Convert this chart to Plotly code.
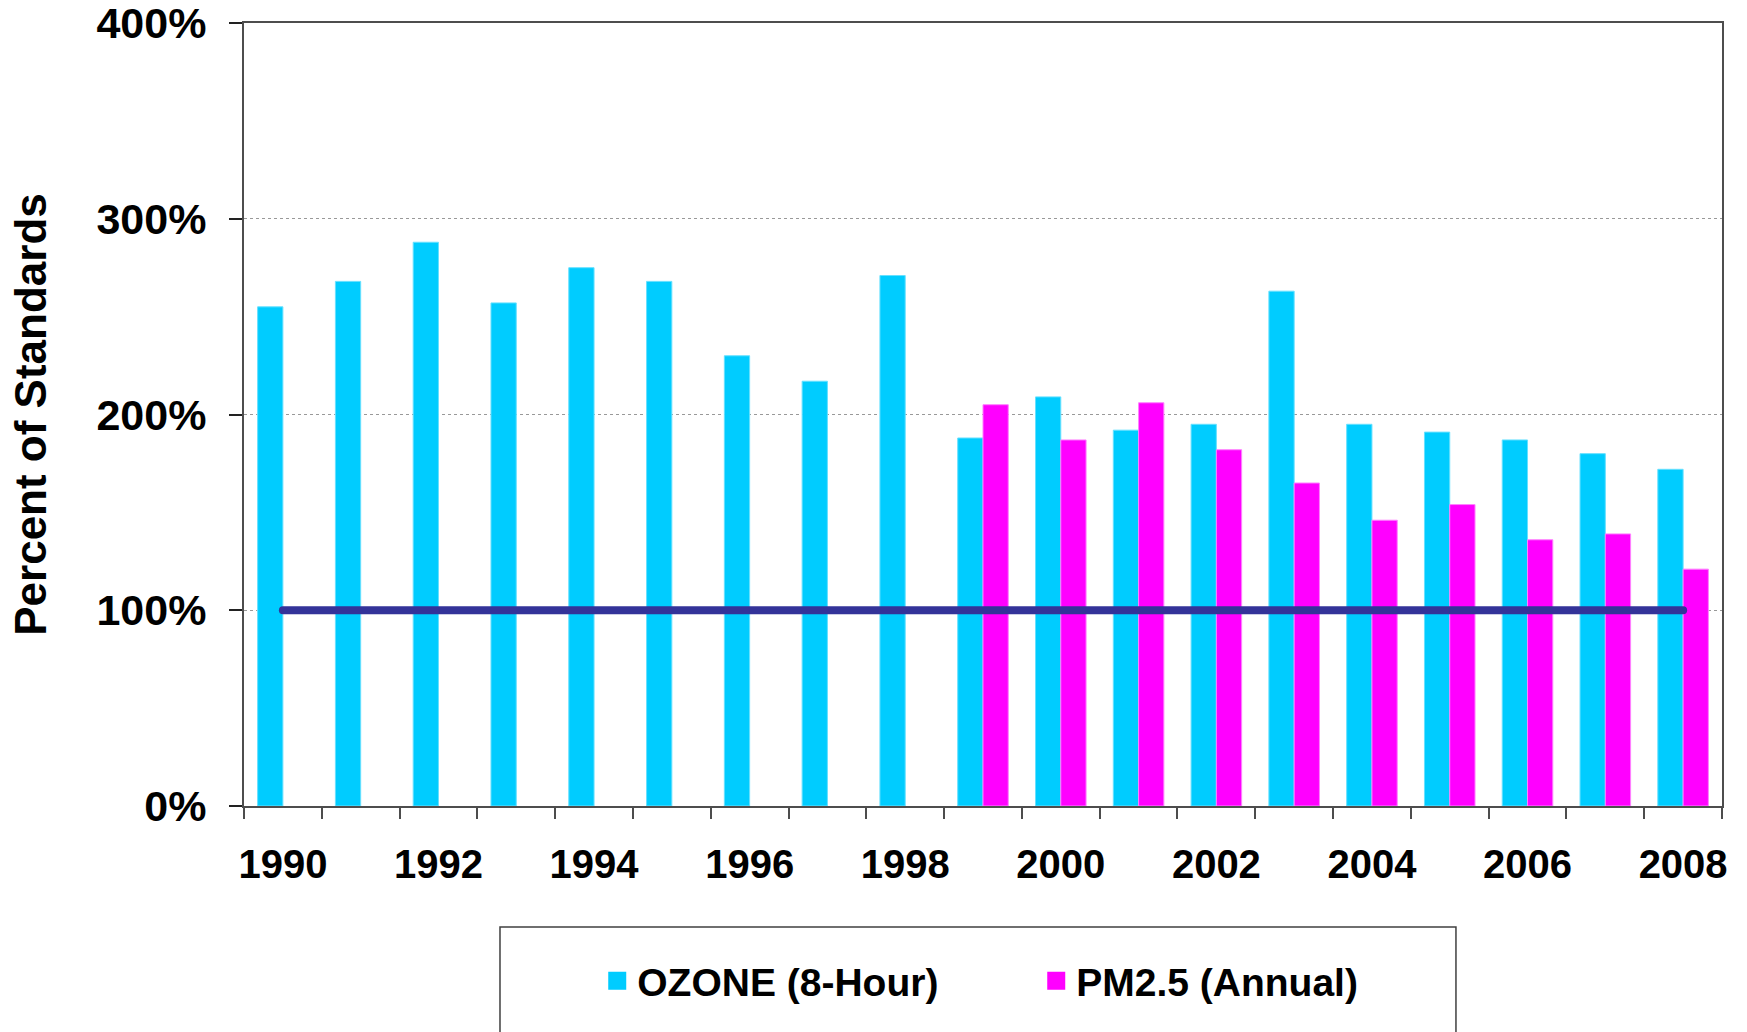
import plotly.graph_objects as go

years = list(range(1990, 2009))
ozone = [255, 268, 288, 257, 275, 268, 230, 217, 271, 188, 209, 192, 195, 263, 195, 191, 187, 180, 172]
pm_years = list(range(1999, 2009))
pm25 = [205, 187, 206, 182, 165, 146, 154, 136, 139, 121]
standard_years = [1990, 2008]
standard_level = [100, 100]
y_ticks = [0, 100, 200, 300, 400]
y_ticktext = ["0%", "100%", "200%", "300%", "400%"]
x_ticks = list(range(1990, 2009, 2))

FONT = "Liberation Sans, Arial, sans-serif"
CYAN = "#00CCFF"
MAGENTA = "#FF00FF"
NAVY = "#333399"
AXIS = "#4d4d4d"

fig = go.Figure()
fig.add_trace(go.Bar(x=years, y=ozone, name="OZONE (8-Hour)", legendgroup="oz",
                     showlegend=False,
                     marker=dict(color=CYAN, line=dict(color="#66e0ff", width=1))))
fig.add_trace(go.Bar(x=pm_years, y=pm25, name="PM2.5 (Annual)", legendgroup="pm",
                     showlegend=False,
                     marker=dict(color=MAGENTA, line=dict(color="#ff80ff", width=1))))
fig.add_trace(go.Scatter(x=standard_years, y=standard_level, mode="lines",
                         line=dict(color=NAVY, width=8), showlegend=False,
                         hoverinfo="skip"))
# legend entries (square swatches) for the two bar series
fig.add_trace(go.Scatter(x=[None], y=[None], mode="markers", name="OZONE (8-Hour)",
                         legendgroup="oz",
                         marker=dict(symbol="square", size=16, color=CYAN,
                                     line=dict(color=CYAN, width=2))))
fig.add_trace(go.Scatter(x=[None], y=[None], mode="markers", name="PM2.5 (Annual)",
                         legendgroup="pm",
                         marker=dict(symbol="square", size=16, color=MAGENTA,
                                     line=dict(color=MAGENTA, width=2))))

fig.update_layout(
    width=1747, height=1032,
    margin=dict(l=244, r=25, t=23, b=226),
    paper_bgcolor="white", plot_bgcolor="white",
    barmode="group", bargap=0.35, bargroupgap=0,
    font=dict(family=FONT, color="black"),
    showlegend=True,
    legend=dict(orientation="h", x=0.239, xanchor="left", y=-0.1826, yanchor="top",
                font=dict(size=39, family=FONT, color="black", weight="bold"),
                bgcolor="rgba(0,0,0,0)", borderwidth=0, entrywidth=394,
                entrywidthmode="pixels", itemsizing="trace"),
    shapes=[dict(type="rect", xref="paper", yref="paper",
                 x0=0.1732, x1=0.82, y0=-0.1545, y1=-0.34,
                 line=dict(color="#404040", width=1.5), fillcolor="rgba(0,0,0,0)")],
)

fig.update_xaxes(
    range=[1989.5, 2008.5], tickmode="array", tickvals=x_ticks, automargin=False,
    ticktext=[str(v) for v in x_ticks], ticks="", showgrid=False, zeroline=False,
    showline=True, linecolor=AXIS, linewidth=2, mirror=True,
    tickfont=dict(size=40, family=FONT, color="black", weight="bold"),
    ticklabelstandoff=22, ticklabeloverflow="allow",
    minor=dict(tickmode="array", tickvals=[y - 0.5 for y in years] + [2008.5],
               ticks="outside", ticklen=11, tickcolor=AXIS, tickwidth=1.5, showgrid=False),
)
fig.update_yaxes(
    range=[0, 400], tickmode="array", tickvals=y_ticks, ticktext=y_ticktext,
    automargin=False, ticklabeloverflow="allow",
    ticks="outside", ticklen=13, tickcolor="#222", tickwidth=1.5,
    showgrid=True, gridcolor="#999999", griddash="dot", gridwidth=1,
    zeroline=False, showline=True, linecolor=AXIS, linewidth=2, mirror=True,
    tickfont=dict(size=43, family=FONT, color="black", weight="bold"),
    ticklabelstandoff=14,
    title=dict(text="Percent of Standards", standoff=36,
               font=dict(size=44, family=FONT, color="black", weight="bold")),
)

post = (
    "document.body.style.margin='0';document.body.style.overflow='hidden';"
    "document.querySelectorAll('.scatterlayer .js-line').forEach(function(p){"
    "p.style.strokeLinecap='round';});"
)
fig.write_html("out.html", config={"displayModeBar": False}, post_script=post)
